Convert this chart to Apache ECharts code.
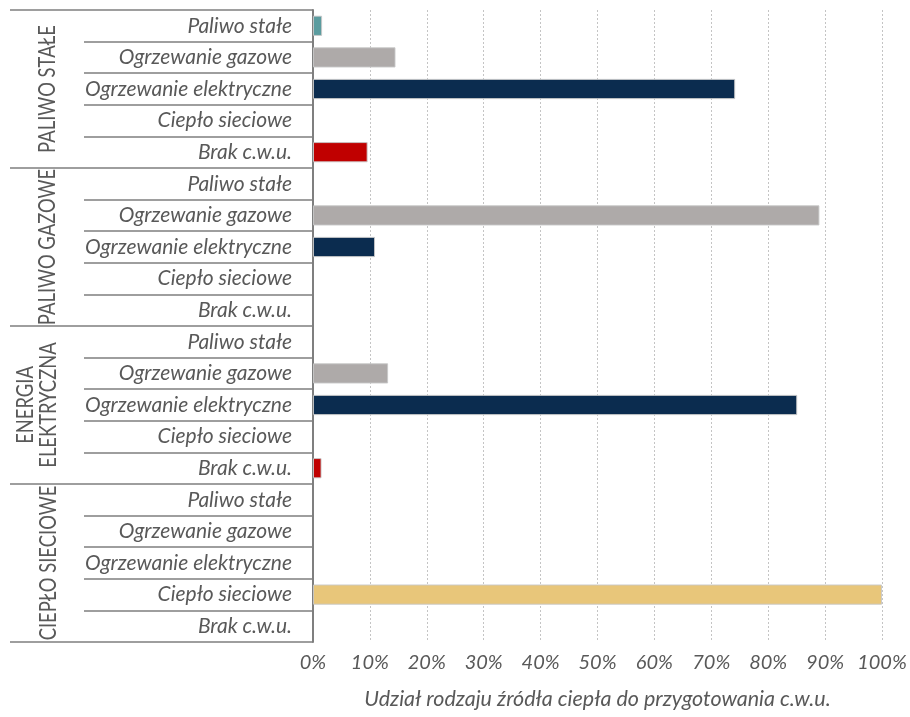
<!DOCTYPE html>
<html>
<head>
<meta charset="utf-8">
<script src="https://cdn.jsdelivr.net/npm/echarts@6/dist/echarts.min.js"></script>
<style>
  html, body { margin: 0; padding: 0; background: #ffffff; }
  #chart { width: 910px; height: 717px; }
</style>
</head>
<body>
<div id="chart"></div>
<script>
// Main heat source groups (outer row labels)
const groups = ['PALIWO STAŁE', 'PALIWO GAZOWE', 'ENERGIA\nELEKTRYCZNA', 'CIEPŁO SIECIOWE'];
// Hot-water source types (inner row labels, repeated in each group)
const types = ['Paliwo stałe', 'Ogrzewanie gazowe', 'Ogrzewanie elektryczne', 'Ciepło sieciowe', 'Brak c.w.u.'];
// Share of each hot-water source [%], one array per group
const paliwoStale = [1.6, 14.5, 74.2, 0, 9.6];
const paliwoGazowe = [0, 89.0, 10.9, 0, 0];
const energiaElektryczna = [0, 13.2, 85.1, 0, 1.5];
const cieploSieciowe = [0, 0, 0, 100, 0];
const groupValues = [paliwoStale, paliwoGazowe, energiaElektryczna, cieploSieciowe];
// X axis
const xTicks = [0, 10, 20, 30, 40, 50, 60, 70, 80, 90, 100];
const xTitle = 'Udział rodzaju źródła ciepła do przygotowania c.w.u.';
// Bar colour per hot-water source type
const typeColors = ['#5b9c9f', '#aeaaa9', '#0b2c4f', '#e8c67a', '#c00000'];

const FONT = 'Lato';
const GREY_TEXT = '#595959';
const LINE = '#7f7f7f';

// One row per (group, type); keys are unique, the label shows only the type
const rowKeys = [];
const rowData = [];
groups.forEach((g, gi) => {
  types.forEach((t, ti) => {
    rowKeys.push(gi + '|' + t);
    const v = groupValues[gi][ti];
    rowData.push(v > 0 ? { value: v, itemStyle: { color: typeColors[ti] } } : '-');
  });
});

const chart = echarts.init(document.getElementById('chart'), null, { renderer: 'canvas' });

chart.setOption({
  animation: false,
  backgroundColor: '#ffffff',
  grid: { left: 313, right: 28, top: 10, bottom: 75, containLabel: false },
  xAxis: {
    type: 'value',
    min: xTicks[0],
    max: xTicks[xTicks.length - 1],
    interval: xTicks[1] - xTicks[0],
    axisLine: { show: false },
    axisTick: { show: false },
    splitLine: { show: true, lineStyle: { type: [2, 2], color: '#c4c4c4', width: 1 } },
    axisLabel: {
      formatter: '{value}%',
      fontFamily: FONT, fontStyle: 'italic', fontSize: 20, color: GREY_TEXT, margin: 11
    },
    name: xTitle,
    nameLocation: 'middle',
    nameGap: 46,
    nameTextStyle: { fontFamily: FONT, fontStyle: 'italic', fontSize: 21.5, color: GREY_TEXT }
  },
  yAxis: [
    {
      type: 'category',
      data: rowKeys,
      inverse: true,
      position: 'left',
      axisLine: { show: true, lineStyle: { color: LINE, width: 2 } },
      axisTick: { show: true, interval: 0, length: 229, lineStyle: { color: LINE, width: 1.5 } },
      axisLabel: {
        interval: 0,
        margin: 21,
        formatter: (v) => v.split('|')[1],
        fontFamily: FONT, fontStyle: 'italic', fontSize: 21, color: GREY_TEXT
      },
      splitLine: { show: false }
    },
    {
      type: 'category',
      data: groups,
      inverse: true,
      position: 'left',
      offset: 0,
      axisLine: { show: false },
      axisTick: { show: true, interval: 0, length: 303, lineStyle: { color: LINE, width: 1.5 } },
      axisLabel: { show: false },
      splitLine: { show: false }
    }
  ],
  series: [
    {
      type: 'bar',
      yAxisIndex: 0,
      data: rowData,
      barCategoryGap: '36%',
      itemStyle: { borderColor: 'rgba(200,200,200,0.9)', borderWidth: 1 },
      z: 3
    }
  ]
});

// Rotated group names in the outer column, placed at each group's centre on the group axis
function drawGroupLabels() {
  const xs = [48, 48, 37, 49];
  const elements = groups.map((g, i) => {
    const y = chart.convertToPixel({ yAxisIndex: 1 }, g);
    return {
      type: 'text',
      x: xs[i],
      y: y,
      rotation: Math.PI / 2,
      scaleX: 0.8,
      style: {
        text: g,
        fontFamily: FONT,
        fontSize: 23,
        lineHeight: 23,
        fill: GREY_TEXT,
        align: 'center',
        verticalAlign: 'middle'
      },
      z: 10
    };
  });
  chart.setOption({ graphic: elements });
}
drawGroupLabels();
</script>
</body>
</html>
